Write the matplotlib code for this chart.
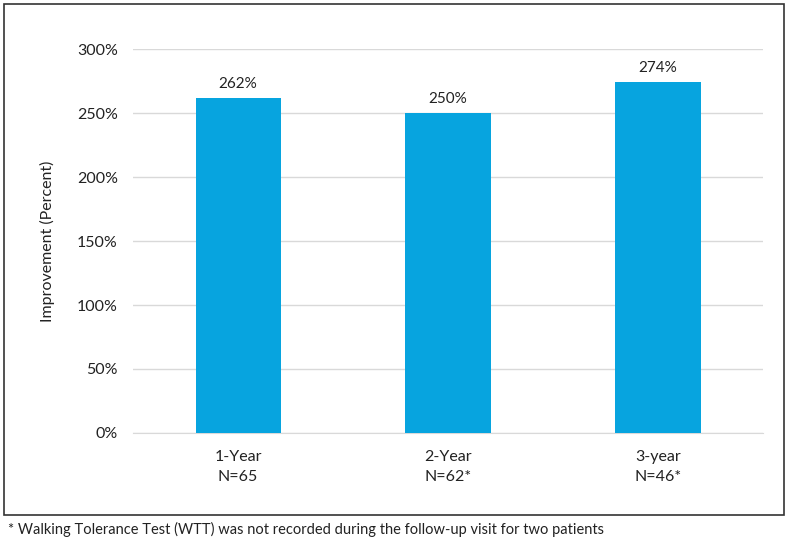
import matplotlib.pyplot as plt
from matplotlib.patches import Rectangle
from matplotlib.ticker import FuncFormatter

categories = ["1-Year\nN=65", "2-Year\nN=62*", "3-year\nN=46*"]
improvement = [262, 250, 274]
yticks = [0, 50, 100, 150, 200, 250, 300]
footnote = "* Walking Tolerance Test (WTT) was not recorded during the follow-up visit for two patients"

plt.rcParams['font.family'] = ['Lato', 'DejaVu Sans']
plt.rcParams['font.size'] = 11

fig = plt.figure(figsize=(7.9, 5.39), dpi=100)
ax = fig.add_axes([0.1684, 0.1967, 0.7974, 0.7123])

x = list(range(len(categories)))
bars = ax.bar(x, improvement, width=0.405, color='#07A4DF', zorder=3)
for xi, v in zip(x, improvement):
    ax.annotate(f"{v}%", (xi, v), xytext=(0, 5), textcoords='offset points',
                ha='center', va='bottom', fontsize=11, color='#222222')

ax.set_xlim(-0.5, len(categories) - 0.5)
ax.set_ylim(0, 300)
ax.set_yticks(yticks)
ax.yaxis.set_major_formatter(FuncFormatter(lambda v, p: f"{v:.0f}%"))
ax.set_xticks(x)
ax.set_xticklabels(categories, linespacing=1.6)
ax.grid(axis='y', color='#D9D9D9', linewidth=1, zorder=0)
for s in ['top', 'right', 'left']:
    ax.spines[s].set_visible(False)
ax.spines['bottom'].set_color('#D9D9D9')
ax.tick_params(axis='both', length=0, labelsize=11.5, colors='#222222')
ax.tick_params(axis='y', pad=11)
ax.tick_params(axis='x', pad=12)
ax.set_ylabel("Improvement (Percent)", fontsize=11.5, color='#222222', labelpad=16)

fig.patches.append(Rectangle((0.005, 0.0445), 0.987, 0.948, transform=fig.transFigure,
                             fill=False, edgecolor='#333333', linewidth=1.2))
fig.text(0.01, 0.017, footnote, fontsize=10.5, color='#222222', va='center', ha='left')

fig.savefig("out.png", dpi=100)
